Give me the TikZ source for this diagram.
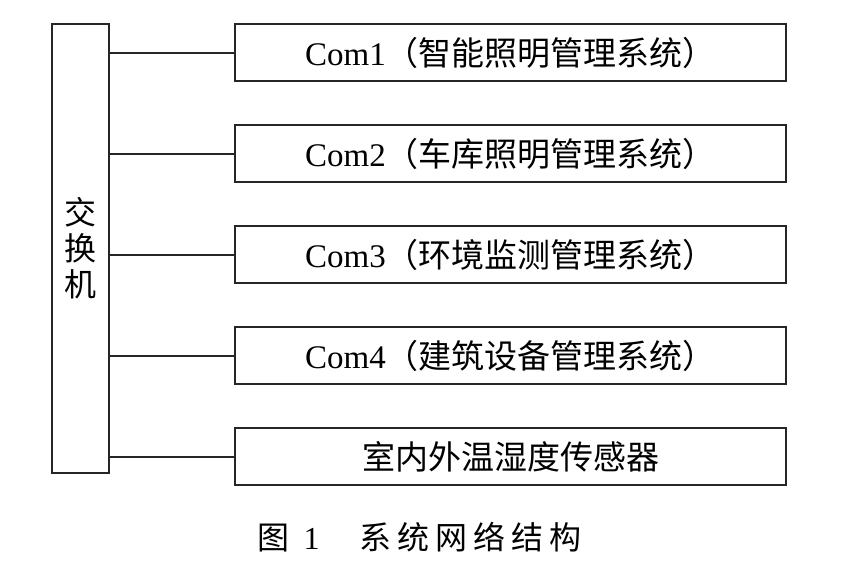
\documentclass[tikz,border=0pt]{standalone}
\usepackage{fontspec}
\setmainfont{Liberation Serif}
\newfontfamily\cjk{Noto Sans CJK SC}
\begin{document}
\begin{tikzpicture}[x=1pt,y=-1pt,
  line/.style={draw=black!85,line width=2pt},
  sysbox/.style={line,rectangle,minimum width=551pt,minimum height=57pt,inner sep=0pt,anchor=north west,font=\fontsize{33}{36}\selectfont},
  swbox/.style={line,rectangle,minimum width=57pt,minimum height=449pt,inner sep=0pt,anchor=north west,font=\fontsize{32}{36}\selectfont\cjk,align=center}]
\useasboundingbox (0,0) rectangle (856,560);
\node[swbox] (sw) at (51,23) {交\\换\\机};
\node[sysbox] (b1) at (234,23) {Com1{\cjk （智能照明管理系统）}};
\node[sysbox] (b2) at (234,124) {Com2{\cjk （车库照明管理系统）}};
\node[sysbox] (b3) at (234,225) {Com3{\cjk （环境监测管理系统）}};
\node[sysbox] (b4) at (234,326) {Com4{\cjk （建筑设备管理系统）}};
\node[sysbox] (b5) at (234,427) {\cjk 室内外温湿度传感器};
\foreach \b in {b1,b2,b3,b4,b5}
  \draw[line] (\b.west) -- (\b.west -| sw.east);
\node[font=\fontsize{32}{34}\selectfont,anchor=west] (cap) at (254,537)
  {{\cjk 图}\hspace{14pt}1\hspace{40pt}{\cjk 系\hspace{6pt}统\hspace{6pt}网\hspace{6pt}络\hspace{6pt}结\hspace{6pt}构}};
\end{tikzpicture}
\end{document}
